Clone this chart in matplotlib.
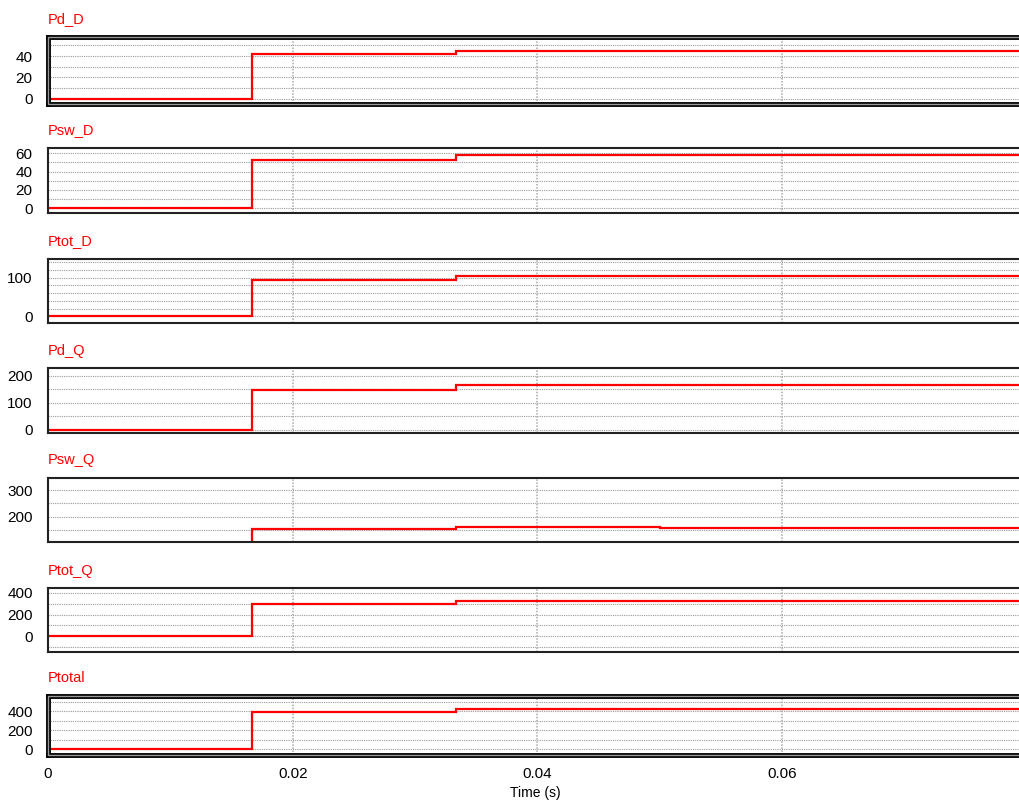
import matplotlib
matplotlib.use("Agg")
import matplotlib.pyplot as plt
import numpy as np
from matplotlib.patches import Rectangle

plt.rcParams['font.family'] = ['Liberation Sans', 'DejaVu Sans']
plt.rcParams['font.size'] = 10

# switching instants (s): start, 1/60, 1/30, 0.05, end
t_edges = [0.0, 0.016667, 0.033333, 0.05, 0.08]

# value of each signal on each interval
pd_d = [0, 42, 45, 45]
psw_d = [0, 52.6, 58, 58]
ptot_d = [0, 94.6, 103, 103]
pd_q = [0, 147, 166, 166]
psw_q = [0, 153, 161, 158]
ptot_q = [0, 300, 327, 324]
ptotal = [0, 395, 428, 425]

names = ['Pd_D', 'Psw_D', 'Ptot_D', 'Pd_Q', 'Psw_Q', 'Ptot_Q', 'Ptotal']
series = [pd_d, psw_d, ptot_d, pd_q, psw_q, ptot_q, ptotal]
yticks = [[0, 20, 40], [0, 20, 40, 60], [0, 100], [0, 100, 200],
          [200, 300], [0, 200, 400], [0, 200, 400]]
ygrid = [np.arange(0, 51, 10), np.arange(0, 61, 10), np.arange(0, 141, 20),
         np.arange(0, 201, 50), np.arange(150, 301, 50), np.arange(-100, 401, 100),
         np.arange(0, 501, 100)]
ylims = [(-4.7, 57.7), (-5.1, 65.8), (-17.4, 148), (-12.7, 228),
         (104, 346), (-147, 446), (-62, 560)]

# panel boxes in pixels (top, bottom)
W, H = 1019, 801
boxes = [(37, 104), (148, 213), (259, 323), (368, 433), (478, 542), (588, 652), (696, 755)]
double_border = [True, False, False, False, False, False, True]

xmax = 0.0796
left = 48

fig = plt.figure(figsize=(W / 100, H / 100), dpi=100)

for i, name in enumerate(names):
    top, bot = boxes[i]
    ax = fig.add_axes([left / W, 1 - bot / H, 1.003 - left / W, (bot - top) / H])
    ax.stairs(series[i], t_edges, baseline=None, color='red', lw=1.6)
    ax.set_xlim(0, xmax)
    ax.set_ylim(*ylims[i])
    ax.set_yticks(yticks[i])

    # dotted grid
    for g in ygrid[i]:
        ax.axhline(g, color='#999999', lw=0.8, ls=(0, (1, 1)), zorder=0)
    for g in [0.02, 0.04, 0.06]:
        ax.axvline(g, color='#aaaaaa', lw=1.1, ls=(0, (1, 1)), zorder=0)

    ax.tick_params(length=0, pad=11, labelsize=11)
    ax.set_xticks([0, 0.02, 0.04, 0.06])
    if i < len(names) - 1:
        ax.set_xticklabels([])
    else:
        ax.set_xticklabels(['0', '0.02', '0.04', '0.06'])
        ax.tick_params(axis='x', pad=9)
        ax.set_xlabel('Time (s)', labelpad=3, fontsize=10)

    if double_border[i]:
        for s in ax.spines.values():
            s.set_linewidth(3.5)
            s.set_color('black')
        ax.add_patch(Rectangle((0, 0), 1, 1, transform=ax.transAxes, fill=False,
                               edgecolor='#999999', lw=1.0, clip_on=False, zorder=5))
    else:
        for s in ax.spines.values():
            s.set_linewidth(1.5)
            s.set_color('#222222')

    fig.text(48 / W, 1 - (top - 17.5) / H, name, color='#ff0000', fontsize=10.5,
             ha='left', va='center')

fig.savefig('out.png', dpi=100)
